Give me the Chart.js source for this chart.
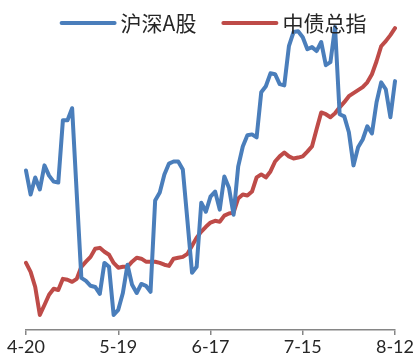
<!DOCTYPE html>
<html>
<head>
<meta charset="utf-8">
<script src="https://cdn.jsdelivr.net/npm/chart.js@4.4.1/dist/chart.umd.min.js"></script>
<style>
  html, body { margin: 0; padding: 0; background: #ffffff; }
</style>
</head>
<body>
<canvas id="chart" width="415" height="360"></canvas>
<script>
// Trading-day series, rebased so both curves share one hidden scale.
const tickLabels = ['4-20', '5-19', '6-17', '7-15', '8-12'];
const tickStep = 20;

const stockIndex = [
  53.0, 45.0, 50.7, 46.7, 54.7, 51.3, 49.3, 49.0, 69.7, 69.7,
  73.7, 45.3, 17.3, 16.3, 14.7, 14.3, 12.0, 22.3, 21.0, 5.0,
  6.7, 12.3, 21.7, 15.0, 12.3, 15.3, 14.7, 12.7, 43.0, 45.7,
  51.7, 55.3, 56.0, 56.0, 53.3, 36.3, 19.0, 21.0, 42.3, 39.3,
  44.3, 46.0, 40.0, 51.0, 47.3, 38.3, 54.3, 61.0, 64.7, 65.0,
  64.0, 79.0, 81.0, 85.3, 85.0, 81.7, 81.3, 94.3, 99.0, 99.3,
  97.3, 93.3, 94.0, 92.7, 95.7, 88.0, 89.0, 100.7, 71.7, 71.0,
  65.7, 54.7, 60.7, 63.3, 67.7, 65.3, 75.7, 82.3, 80.0, 70.7,
  82.7
];

const bondIndex = [
  22.3, 19.3, 14.3, 5.0, 8.3, 11.7, 13.7, 13.3, 17.0, 16.7,
  16.0, 17.0, 21.0, 22.7, 24.3, 27.0, 27.3, 26.0, 25.0, 22.3,
  20.7, 21.0, 21.0, 22.7, 24.0, 23.7, 22.7, 22.7, 22.7, 22.3,
  21.7, 21.3, 23.7, 24.0, 24.3, 25.3, 28.0, 30.7, 32.7, 34.3,
  35.7, 36.3, 36.0, 38.0, 38.7, 39.0, 43.7, 45.0, 44.7, 46.0,
  50.7, 51.7, 50.7, 52.7, 56.0, 57.7, 59.0, 57.7, 57.0, 57.3,
  57.7, 59.3, 61.0, 66.7, 72.3, 71.7, 70.7, 72.0, 74.0, 75.7,
  77.7, 78.7, 79.7, 80.7, 82.3, 85.0, 89.3, 94.3, 96.0, 98.0,
  100.3
];

const seriesNames = ['沪深A股', '中债总指'];
const seriesColors = ['#4a7ebb', '#be4b48'];

const categories = stockIndex.map((_, i) => (i % tickStep === 0 ? tickLabels[i / tickStep] : ''));

// Legend drawn as a single centred row that may sit over the plot, like the original layout.
const inlineLegend = {
  id: 'inlineLegend',
  afterDraw(chart) {
    const ctx = chart.ctx;
    const sampleLength = 53;
    const textGap = 6;
    const itemGap = 27;
    const centerX = 214;
    const centerY = 23;

    ctx.save();
    ctx.font = '21px "Noto Sans CJK SC", "Noto Sans", sans-serif';
    ctx.textBaseline = 'middle';

    const items = chart.data.datasets.map(ds => ({
      text: ds.label,
      color: ds.borderColor,
      width: ctx.measureText(ds.label).width
    }));
    const total = items.reduce((sum, item) => sum + sampleLength + textGap + item.width, 0) + itemGap * (items.length - 1);

    let x = centerX - total / 2;
    items.forEach(item => {
      ctx.strokeStyle = item.color;
      ctx.lineWidth = 4;
      ctx.lineCap = 'round';
      ctx.beginPath();
      ctx.moveTo(x, centerY);
      ctx.lineTo(x + sampleLength, centerY);
      ctx.stroke();
      x += sampleLength + textGap;
      ctx.fillStyle = '#262626';
      ctx.fillText(item.text, x, centerY);
      x += item.width + itemGap;
    });
    ctx.restore();
  }
};

new Chart(document.getElementById('chart'), {
  type: 'line',
  data: {
    labels: categories,
    datasets: [
      {
        label: seriesNames[0],
        data: stockIndex,
        borderColor: seriesColors[0],
        backgroundColor: seriesColors[0],
        borderWidth: 4,
        pointRadius: 0,
        tension: 0,
        borderJoinStyle: 'round',
        borderCapStyle: 'round'
      },
      {
        label: seriesNames[1],
        data: bondIndex,
        borderColor: seriesColors[1],
        backgroundColor: seriesColors[1],
        borderWidth: 4,
        pointRadius: 0,
        tension: 0,
        borderJoinStyle: 'round',
        borderCapStyle: 'round'
      }
    ]
  },
  options: {
    responsive: false,
    animation: false,
    layout: {
      padding: { left: 26, right: 20, top: 5, bottom: 0 }
    },
    plugins: {
      legend: { display: false },
      tooltip: { enabled: false }
    },
    scales: {
      x: {
        // end labels may hang past the plot edges instead of squeezing it
        afterFit: (scale) => {
          scale.paddingLeft = 0;
          scale.paddingRight = 0;
        },
        grid: {
          display: true,
          drawOnChartArea: false,
          drawTicks: true,
          tickLength: 5,
          color: '#868686',
          lineWidth: 1.5
        },
        border: { color: '#868686', width: 1.5 },
        ticks: {
          autoSkip: false,
          maxRotation: 0,
          padding: 3,
          color: '#262626',
          font: { family: 'Lato', size: 18, lineHeight: '19px' },
          callback: function (value) {
            const label = this.getLabelForValue(value);
            return label === '' ? null : label;
          }
        }
      },
      y: {
        display: false,
        min: 0,
        max: 108
      }
    }
  },
  plugins: [inlineLegend]
});
</script>
</body>
</html>
